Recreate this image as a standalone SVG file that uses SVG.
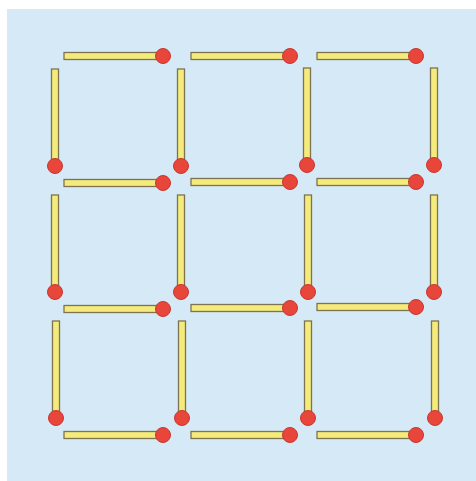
<svg xmlns="http://www.w3.org/2000/svg" width="476" height="481" viewBox="0 0 476 481">
<defs>
<style>
.stick{fill:#f4eb7c;stroke:#7d7350;stroke-width:1.3}
.head{fill:#e8453b;stroke:#c8372f;stroke-width:1}
</style>
<g id="hm"><rect class="stick" x="0" y="-3.5" width="99" height="7"/><circle class="head" cx="99" cy="0" r="7.5"/></g>
<g id="vm"><rect class="stick" x="-3.5" y="0" width="7" height="97"/><circle class="head" cx="0" cy="97" r="7.5"/></g>
</defs>
<rect x="0" y="0" width="476" height="481" fill="#ffffff"/>
<rect x="7" y="9" width="469" height="472" fill="#d5e9f6"/>
<g id="matches">
<g id="h11"><use href="#hm" x="64" y="56"/></g>
<g id="h12"><use href="#hm" x="191" y="56"/></g>
<g id="h13"><use href="#hm" x="317" y="56"/></g>
<g id="h21"><use href="#hm" x="64" y="183"/></g>
<g id="h22"><use href="#hm" x="191" y="182"/></g>
<g id="h23"><use href="#hm" x="317" y="182"/></g>
<g id="h31"><use href="#hm" x="64" y="309"/></g>
<g id="h32"><use href="#hm" x="191" y="308"/></g>
<g id="h33"><use href="#hm" x="317" y="307"/></g>
<g id="h41"><use href="#hm" x="64" y="435"/></g>
<g id="h42"><use href="#hm" x="191" y="435"/></g>
<g id="h43"><use href="#hm" x="317" y="435"/></g>
<g id="v11"><use href="#vm" x="55" y="69"/></g>
<g id="v12"><use href="#vm" x="181" y="69"/></g>
<g id="v13"><use href="#vm" x="307" y="68"/></g>
<g id="v14"><use href="#vm" x="434" y="68"/></g>
<g id="v21"><use href="#vm" x="55" y="195"/></g>
<g id="v22"><use href="#vm" x="181" y="195"/></g>
<g id="v23"><use href="#vm" x="308" y="195"/></g>
<g id="v24"><use href="#vm" x="434" y="195"/></g>
<g id="v31"><use href="#vm" x="56" y="321"/></g>
<g id="v32"><use href="#vm" x="182" y="321"/></g>
<g id="v33"><use href="#vm" x="308" y="321"/></g>
<g id="v34"><use href="#vm" x="435" y="321"/></g>
</g>
</svg>
